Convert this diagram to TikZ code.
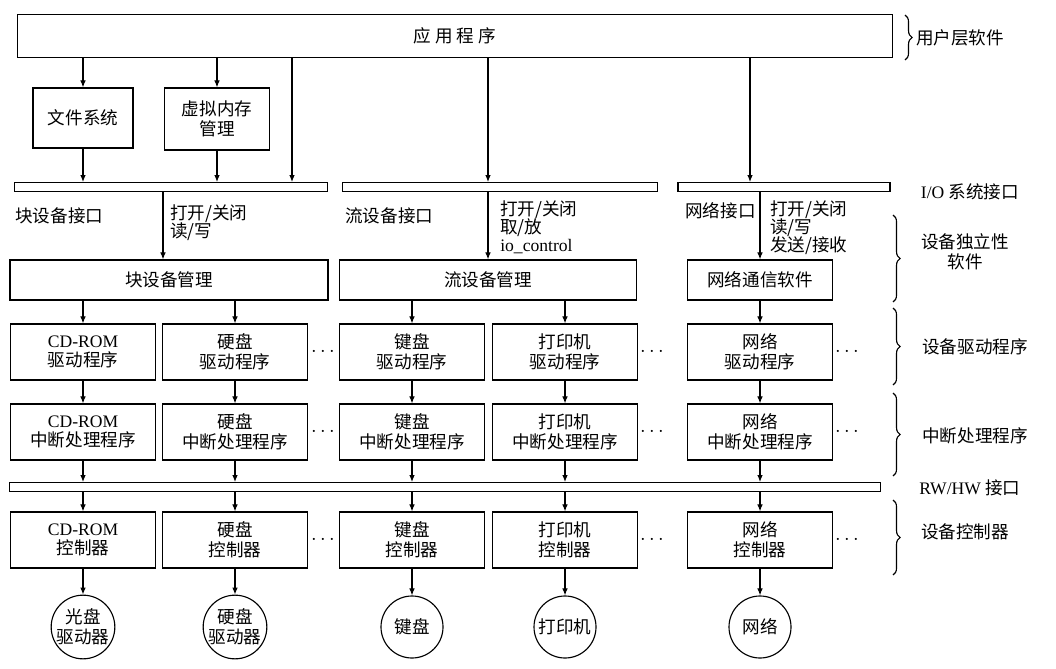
\documentclass[tikz,border=0pt]{standalone}
\usepackage{fontspec}
\setmainfont{Liberation Serif}
\newfontfamily\cjk{Noto Sans CJK SC}
\usetikzlibrary{positioning,decorations.pathreplacing,arrows.meta}
\newcommand{\zh}[1]{{\cjk #1}}
\begin{document}
\begin{tikzpicture}[x=0.025cm,y=-0.025cm,
    box/.style={draw,thick,align=center,inner sep=0pt,font=\fontsize{12.5}{14}\selectfont},
    unit/.style={box,minimum width=3.625cm,minimum height=1.4cm},
    bar/.style={draw,thick,inner sep=0pt,minimum height=0.22cm},
    dev/.style={draw,thick,circle,minimum size=1.55cm,inner sep=0pt,align=center,font=\fontsize{12.5}{14}\selectfont},
    lab/.style={align=left,anchor=north west,inner sep=0pt,font=\fontsize{12.5}{13}\selectfont},
    side/.style={align=center,font=\fontsize{12.5}{14}\selectfont},
    dots/.style={font=\Large\bfseries},
    arr/.style={-{Latex[length=5pt,width=4pt]},thick},
    brc/.style={decorate,decoration={brace,amplitude=5pt},thick}]
  \useasboundingbox (0,0) rectangle (1056,669);
  % top layer
  \node[box,minimum width=21.875cm,minimum height=1.08cm] (app) at (455,36) {\zh{应\ 用\ 程\ 序}};
  \node[box,minimum width=2.5cm,minimum height=1.5cm] (fs) at (83,118) {\zh{文件系统}};
  \node[box,minimum width=2.625cm,minimum height=1.55cm] (vm) at (217,119) {\zh{虚拟内存}\\\zh{管理}};
  % system interface bars
  \node[bar,minimum width=7.825cm] (bar1) at (171,187) {};
  \node[bar,minimum width=7.875cm] (bar2) at (500,187) {};
  \node[bar,minimum width=5.3cm] (bar3) at (784,187) {};
  \node[lab] (l1) at (15,207) {\zh{块设备接口}};
  \node[lab] (o1) at (170,204) {\zh{打开/关闭}\\\zh{读/写}};
  \node[lab] (l2) at (345,207) {\zh{流设备接口}};
  \node[lab] (o2) at (500,200) {\zh{打开/关闭}\\\zh{取/放}\\io\_control};
  \node[lab] (l3) at (685,202) {\zh{网络接口}};
  \node[lab] (o3) at (770,200) {\zh{打开/关闭}\\\zh{读/写}\\\zh{发送/接收}};
  % device independent software
  \node[box,minimum width=7.95cm,minimum height=1cm] (blk) at (169,280) {\zh{块设备管理}};
  \node[box,minimum width=7.425cm,minimum height=1cm] (str) at (488,280) {\zh{流设备管理}};
  \node[box,minimum width=3.625cm,minimum height=1cm] (net) at (760,280) {\zh{网络通信软件}};
  % drivers, interrupt handlers, controllers
  \node[unit] (d1) at (83,352) {CD-ROM\\\zh{驱动程序}};
  \node[unit] (d2) at (235,352) {\zh{硬盘}\\\zh{驱动程序}};
  \node[unit] (d3) at (412,352) {\zh{键盘}\\\zh{驱动程序}};
  \node[unit] (d4) at (565,352) {\zh{打印机}\\\zh{驱动程序}};
  \node[unit] (d5) at (760,352) {\zh{网络}\\\zh{驱动程序}};
  \node[unit] (i1) at (83,432) {CD-ROM\\\zh{中断处理程序}};
  \node[unit] (i2) at (235,432) {\zh{硬盘}\\\zh{中断处理程序}};
  \node[unit] (i3) at (412,432) {\zh{键盘}\\\zh{中断处理程序}};
  \node[unit] (i4) at (565,432) {\zh{打印机}\\\zh{中断处理程序}};
  \node[unit] (i5) at (760,432) {\zh{网络}\\\zh{中断处理程序}};
  \node[bar,minimum width=21.75cm] (rw) at (445,487) {};
  \node[unit] (c1) at (83,540) {CD-ROM\\\zh{控制器}};
  \node[unit] (c2) at (235,540) {\zh{硬盘}\\\zh{控制器}};
  \node[unit] (c3) at (412,540) {\zh{键盘}\\\zh{控制器}};
  \node[unit] (c4) at (565,540) {\zh{打印机}\\\zh{控制器}};
  \node[unit] (c5) at (760,540) {\zh{网络}\\\zh{控制器}};
  \node[dev] (h1) at (83,627) {\zh{光盘}\\\zh{驱动器}};
  \node[dev] (h2) at (235,627) {\zh{硬盘}\\\zh{驱动器}};
  \node[dev] (h3) at (412,627) {\zh{键盘}};
  \node[dev] (h4) at (565,627) {\zh{打印机}};
  \node[dev] (h5) at (760,627) {\zh{网络}};
  \foreach \y/\r in {352/d,432/i,540/c} {
    \node[dots] (\r a) at (323,\y) {$\cdots$};
    \node[dots] (\r b) at (652,\y) {$\cdots$};
    \node[dots] (\r c) at (847,\y) {$\cdots$};
  }
  % arrows
  \draw[arr] (app.south -| fs) -- (fs);
  \draw[arr] (app.south -| vm) -- (vm);
  \draw[arr] (fs) -- (bar1.north -| fs);
  \draw[arr] (vm) -- (bar1.north -| vm);
  \draw[arr] (app.south -| 292,0) -- (bar1.north -| 292,0);
  \draw[arr] (app.south -| 488,0) -- (bar2.north -| 488,0);
  \draw[arr] (app.south -| 750,0) -- (bar3.north -| 750,0);
  \draw[arr] (bar1.south -| 163,0) -- (blk.north -| 163,0);
  \draw[arr] (bar2.south -| 488,0) -- (str.north -| 488,0);
  \draw[arr] (bar3.south -| 760,0) -- (net);
  \foreach \n/\m in {1/blk,2/blk,3/str,4/str,5/net} {
    \draw[arr] (\m.south -| d\n) -- (d\n);
    \draw[arr] (d\n) -- (i\n);
    \draw[arr] (i\n) -- (rw.north -| i\n);
    \draw[arr] (rw.south -| c\n) -- (c\n);
    \draw[arr] (c\n) -- (h\n);
  }
  % layer names
  \draw[brc] (905,15) -- (905,60);
  \node[side] (s1) at (960,38) {\zh{用户层软件}};
  \node[side] (s2) at (970,192) {I/O \zh{系统接口}};
  \draw[brc] (893,215) -- (893,302);
  \node[side] (s3) at (965,252) {\zh{设备独立性}\\\zh{软件}};
  \draw[brc] (893,308) -- (893,385);
  \node[side] (s4) at (975,347) {\zh{设备驱动程序}};
  \draw[brc] (893,393) -- (893,476);
  \node[side] (s5) at (975,436) {\zh{中断处理程序}};
  \node[side] (s6) at (970,488) {RW/HW \zh{接口}};
  \draw[brc] (893,500) -- (893,575);
  \node[side] (s7) at (965,532) {\zh{设备控制器}};
\end{tikzpicture}
\end{document}
